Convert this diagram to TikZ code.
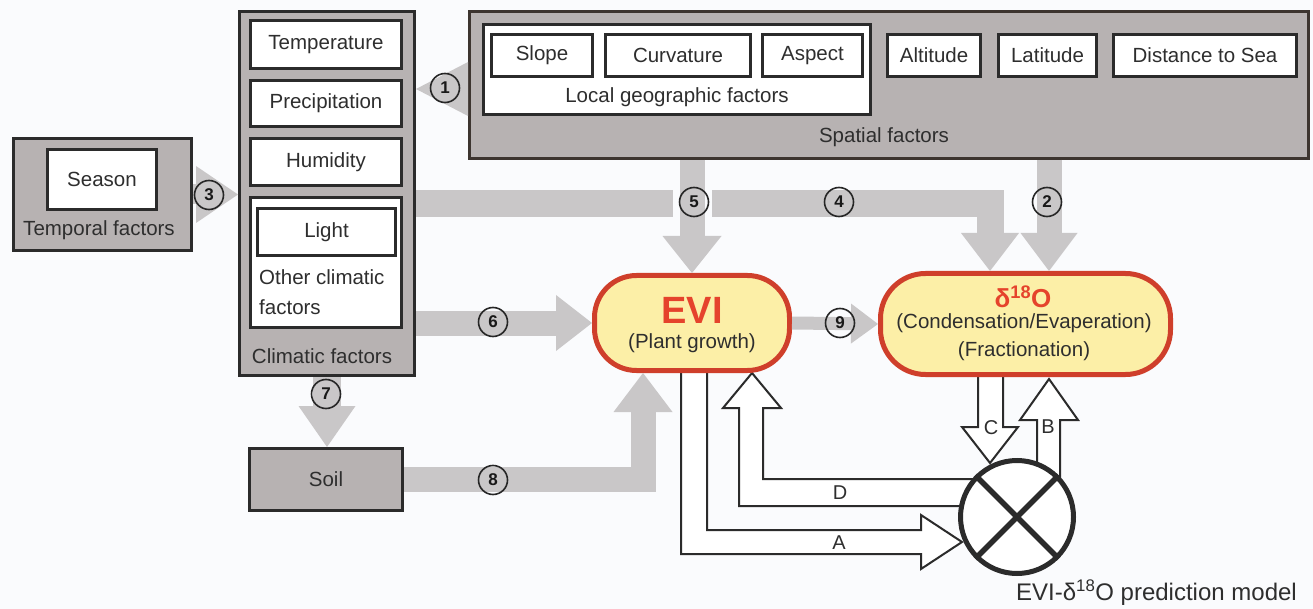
\documentclass[tikz,border=0pt]{standalone}
\usepackage{fontspec}
\setmainfont{Liberation Sans}
\usetikzlibrary{arrows.meta,calc}
\pgfdeclarelayer{back}
\pgfsetlayers{back,main}
\definecolor{bg}{HTML}{FAFBFD}
\definecolor{boxgray}{HTML}{B7B2B2}
\definecolor{arrgray}{HTML}{C9C7C8}
\definecolor{lineblk}{HTML}{2B2B2B}
\definecolor{spborder}{HTML}{3D3530}
\definecolor{redline}{HTML}{CF3F2B}
\definecolor{redtext}{HTML}{E5432C}
\definecolor{pale}{HTML}{FCEFA7}
\definecolor{txt}{HTML}{2E2E2E}
\newcommand\fsz[1]{\fontsize{#1}{24}\selectfont}
\begin{document}
\begin{tikzpicture}[x=1pt,y=-1pt,
  gbox/.style={draw=lineblk, line width=3pt, fill=boxgray, inner sep=0pt, font=\fsz{20.5}, text=txt},
  wbox/.style={draw=lineblk, line width=3pt, fill=white, inner sep=0pt, font=\fsz{20.5}, text=txt},
  lbl/.style={inner sep=0pt, font=\fsz{20.5}, text=txt},
  pill/.style={draw=redline, line width=5pt, fill=pale, inner sep=0pt},
  num/.style={circle, draw=black!85, line width=1.6pt, minimum size=29pt, inner sep=0pt, font=\bfseries\fsz{17}, text=black!90},
  garrow/.style n args={3}{draw=arrgray, line width=#1, line join=miter,
      -{Triangle[width=#2,length=#3,line width=0pt]}},
  hollow/.style={fill=white, draw=lineblk, line width=2pt, line join=miter},
  ablbl/.style={inner sep=0pt, font=\fsz{20}, text=txt}]
\begin{pgfonlayer}{back}
\fill[bg] (0,0) rectangle (1313,609);
\end{pgfonlayer}
\useasboundingbox (0,0) rectangle (1313,609);

% temporal factors
\node[gbox, minimum width=178pt, minimum height=112pt] (temporal) at (102.5,194.5) {};
\node[wbox, minimum width=109pt, minimum height=60pt] (season) at (102,179.5) {Season};
\node[lbl] (templbl) at (99,230) {Temporal factors};

% climatic factors
\node[gbox, minimum width=175pt, minimum height=364pt] (climatic) at (327,193.5) {};
\node[wbox, minimum width=151pt, minimum height=48pt] (temp) at (326,44.5) {Temperature};
\node[wbox, minimum width=151pt, minimum height=46pt] (precip) at (326,103.5) {Precipitation};
\node[wbox, minimum width=151pt, minimum height=47pt] (humid) at (326,162) {Humidity};
\node[wbox, minimum width=151pt, minimum height=130pt] (other) at (326,262.5) {};
\node[wbox, minimum width=138pt, minimum height=47pt] (light) at (326.5,232) {Light};
\node[lbl, anchor=west] (oth1) at (259,277) {Other climatic};
\node[lbl, anchor=west] (oth2) at (259,307) {factors};
\node[lbl] (climlbl) at (322,356) {Climatic factors};

% spatial factors
\node[gbox, draw=spborder, minimum width=839pt, minimum height=147pt] (spatial) at (889,85) {};
\node[wbox, minimum width=387pt, minimum height=90pt] (local) at (677,69.5) {};
\node[wbox, minimum width=101pt, minimum height=42pt] (slope) at (542,55.5) {Slope};
\node[wbox, minimum width=145pt, minimum height=42pt] (curv) at (678,55.5) {Curvature};
\node[wbox, minimum width=100pt, minimum height=42pt] (aspect) at (812.5,55.5) {Aspect};
\node[wbox, minimum width=93pt, minimum height=42pt] (alt) at (934,55.5) {Altitude};
\node[wbox, minimum width=98pt, minimum height=42pt] (lat) at (1047.5,55.5) {Latitude};
\node[wbox, minimum width=183pt, minimum height=42pt] (dist) at (1205,55.5) {Distance to Sea};
\node[lbl] (locallbl) at (677,97) {Local geographic factors};
\node[lbl] (spatlbl) at (884,137) {Spatial factors};

% soil
\node[gbox, minimum width=153pt, minimum height=62pt] (soil) at (326,479.5) {Soil};

% EVI and d18O
\node[pill, minimum width=195pt, minimum height=95pt, rounded corners=42pt] (evi) at (692,323) {};
\node[inner sep=0pt, font=\bfseries\fsz{38}, text=redtext] (evit) at (692,310) {EVI};
\node[lbl] (evis) at (692,343) {(Plant growth)};
\node[pill, minimum width=290pt, minimum height=101pt, rounded corners=45pt] (dO) at (1025.5,324) {};
\node[inner sep=0pt, font=\bfseries\fsz{26}, text=redtext] (dOt) at (1023,297) {δ\textsuperscript{18}O};
\node[lbl] (dOs1) at (1024,323) {(Condensation/Evaperation)};
\node[lbl] (dOs2) at (1024,351) {(Fractionation)};

% model
\node[circle, draw=lineblk, line width=5pt, fill=white, minimum size=113pt, inner sep=0pt] (model) at (1017,517) {};
\draw[lineblk, line width=5.5pt] (model.north west) -- (model.south east);
\draw[lineblk, line width=5.5pt] (model.north east) -- (model.south west);
\node[inner sep=0pt, font=\fsz{24}, text=txt, anchor=east] (modellbl) at (1297,593) {EVI-δ\textsuperscript{18}O prediction model};

% hollow arrows (behind nodes)
\begin{pgfonlayer}{back}
\filldraw[hollow] (681,366) -- (681,554) -- (921,554) -- (921,569) -- (962,542) -- (921,515) -- (921,530) -- (707,530) -- (707,366);
\filldraw[hollow] (995,506) -- (739,506) -- (739,408) -- (723,408) -- (752,373) -- (781,408) -- (763,408) -- (763,479) -- (995,479);
\filldraw[hollow] (978,370) -- (978,427) -- (962,427) -- (990,463) -- (1018,427) -- (1003,427) -- (1003,370);
\filldraw[hollow] (1037,495) -- (1037,420) -- (1020,420) -- (1049,379) -- (1078,420) -- (1060,420) -- (1060,495);
\end{pgfonlayer}
\node[ablbl] (lA) at (839,543) {A};
\node[ablbl] (lD) at (840,493) {D};
\node[ablbl] (lC) at (991,428) {C};
\node[ablbl] (lB) at (1048,427) {B};

% gray arrows
\coordinate (e8) at ([xshift=-49pt]evi.south);
\coordinate (e4) at ([xshift=-35.5pt]dO.north);
\coordinate (e2) at ([xshift=23.5pt]dO.north);
\draw[garrow={20pt}{54pt}{52pt}] ([yshift=-4pt]spatial.west) -- ([yshift=-4pt]spatial.west -| climatic.east);
\draw[garrow={20pt}{57pt}{42pt}] (temporal.east) -- (temporal.east -| climatic.west);
\draw[garrow={28pt}{57pt}{41pt}] (climatic.south) -- (climatic.south |- soil.north);
\draw[garrow={25pt}{59pt}{39pt}] (soil.east) -| (e8);
\draw[garrow={25pt}{56pt}{36pt}] (climatic.east |- evi.west) -- (evi.west);
\draw[garrow={13pt}{40pt}{27pt}] (evi.east) -- (dO.west);
\draw[garrow={27pt}{58pt}{38pt}] ([yshift=-10.5pt]climatic.east) -| (e4);
\draw[garrow={25pt}{57pt}{38pt}] (spatial.south -| e2) -- (e2);
\draw[bg, line width=39pt] ([yshift=-25pt]spatial.south -| evi.north) -- ++(0,38);
\draw[garrow={25pt}{59pt}{37pt}] (spatial.south -| evi.north) -- (evi.north);

% numbers
\node[num] (n1) at (445,88) {1};
\node[num] (n3) at (209,195) {3};
\node[num] (n5) at (694,202) {5};
\node[num] (n4) at (839,202) {4};
\node[num] (n2) at (1047,202) {2};
\node[num] (n6) at (493,322) {6};
\node[num] (n9) at (840,323) {9};
\node[num] (n7) at (326,394) {7};
\node[num] (n8) at (493,480) {8};
\end{tikzpicture}
\end{document}
